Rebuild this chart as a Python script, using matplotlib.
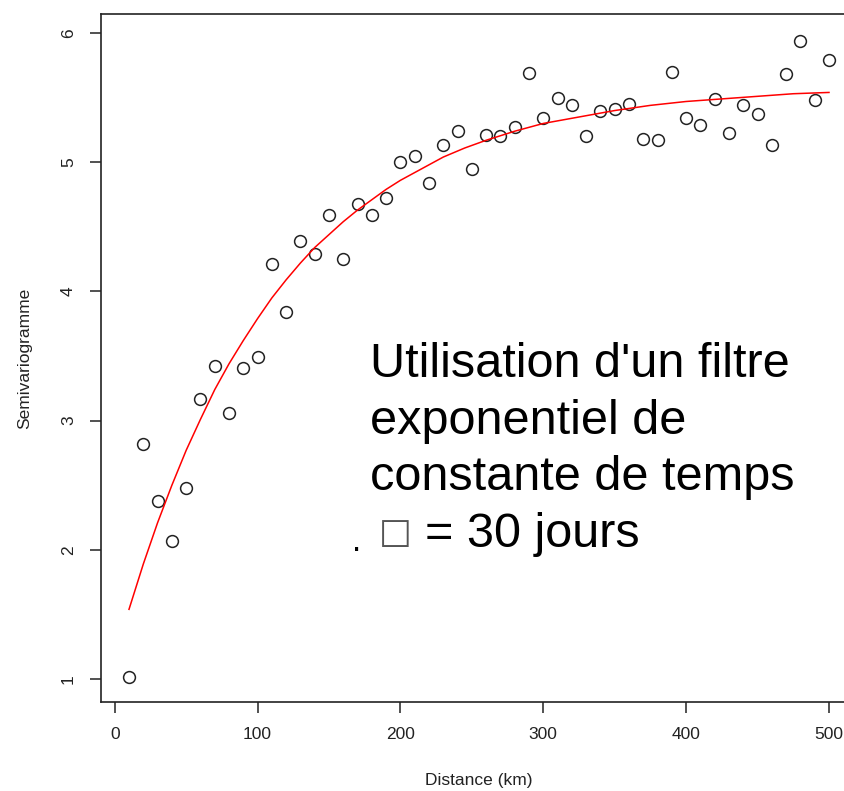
import matplotlib

matplotlib.use("Agg")
import matplotlib.pyplot as plt

plt.rcParams["font.family"] = ["Liberation Sans", "DejaVu Sans"]

# empirical semivariogram, one point every 10 km
distance_km = [10, 20, 30, 40, 50, 60, 70, 80, 90, 100,
               110, 120, 130, 140, 150, 160, 170, 180, 190, 200,
               210, 220, 230, 240, 250, 260, 270, 280, 290, 300,
               310, 320, 330, 340, 350, 360, 370, 380, 390, 400,
               410, 420, 430, 440, 450, 460, 470, 480, 490, 500]
semivar = [1.02, 2.82, 2.38, 2.07, 2.48, 3.17, 3.42, 3.06, 3.41, 3.49,
           4.21, 3.84, 4.39, 4.29, 4.59, 4.25, 4.68, 4.59, 4.72, 5.00,
           5.05, 4.84, 5.13, 5.24, 4.95, 5.21, 5.20, 5.27, 5.69, 5.34,
           5.50, 5.44, 5.20, 5.40, 5.41, 5.45, 5.18, 5.17, 5.70, 5.34,
           5.29, 5.49, 5.23, 5.44, 5.37, 5.13, 5.68, 5.94, 5.48, 5.79]

# fitted exponential model (red curve)
fit_km = [10, 20, 30, 40, 50, 60, 70, 80, 90, 100, 110, 120, 130, 140,
          150, 160, 170, 180, 190, 200, 215, 230, 245, 260, 280, 300,
          325, 350, 375, 400, 425, 450, 475, 500]
fit_val = [1.54, 1.89, 2.21, 2.50, 2.77, 3.01, 3.24, 3.44, 3.62, 3.79,
           3.95, 4.09, 4.22, 4.34, 4.44, 4.54, 4.63, 4.71, 4.79, 4.86,
           4.95, 5.04, 5.11, 5.17, 5.24, 5.30, 5.35, 5.40, 5.44, 5.47,
           5.49, 5.51, 5.53, 5.54]

note_lines = ["Utilisation d'un filtre", "exponentiel de", "constante de temps"]
note_last = "= 30 jours"

W, H = 844, 791
fig = plt.figure(figsize=(W / 100, H / 100), dpi=100)
ax = fig.add_axes([101 / W, 1 - 702 / H, (857 - 101) / W, (702 - 14) / H])

ax.plot(distance_km, semivar, "o", mfc="none", mec="#222222", mew=1.1, ms=8.5)
ax.plot(fit_km, fit_val, "-", color="red", lw=1.1)

ax.set_xlim(-9.6, 519.6)
ax.set_ylim(0.823, 6.147)
ax.set_xticks([0, 100, 200, 300, 400, 500])
ax.set_yticks([1, 2, 3, 4, 5, 6])
for s in ax.spines.values():
    s.set_color("#222222")
    s.set_linewidth(1.2)
ax.tick_params(direction="out", length=8, width=1.1, color="#222222",
               labelsize=12.5, labelcolor="#222222", pad=10)
for lab in ax.get_yticklabels():
    lab.set_rotation(90)
    lab.set_va("center")

fig.text(479 / W, 1 - 781 / H, "Distance (km)", ha="center", va="center",
         fontsize=12.5, color="#222222")
fig.text(25 / W, 1 - 358 / H, "Semivariogramme", ha="center", va="center",
         rotation=90, fontsize=12.5, color="#222222")

# big annotation, one line at a time
x0 = 370 / W
baselines = [377, 433.7, 490.3, 547]
for line, b in zip(note_lines, baselines):
    fig.text(x0, 1 - b / H, line, ha="left", va="baseline", fontsize=35)
fig.text(352 / W, 1 - 551 / H, ".", ha="left", va="baseline", fontsize=24)
fig.text(379 / W, 1 - 543 / H, "\u25a1", ha="left", va="baseline", fontsize=25,
         family="DejaVu Sans", color="#555555")
fig.text(425 / W, 1 - 547 / H, note_last, ha="left", va="baseline", fontsize=35)

fig.savefig("out.png", dpi=100)
